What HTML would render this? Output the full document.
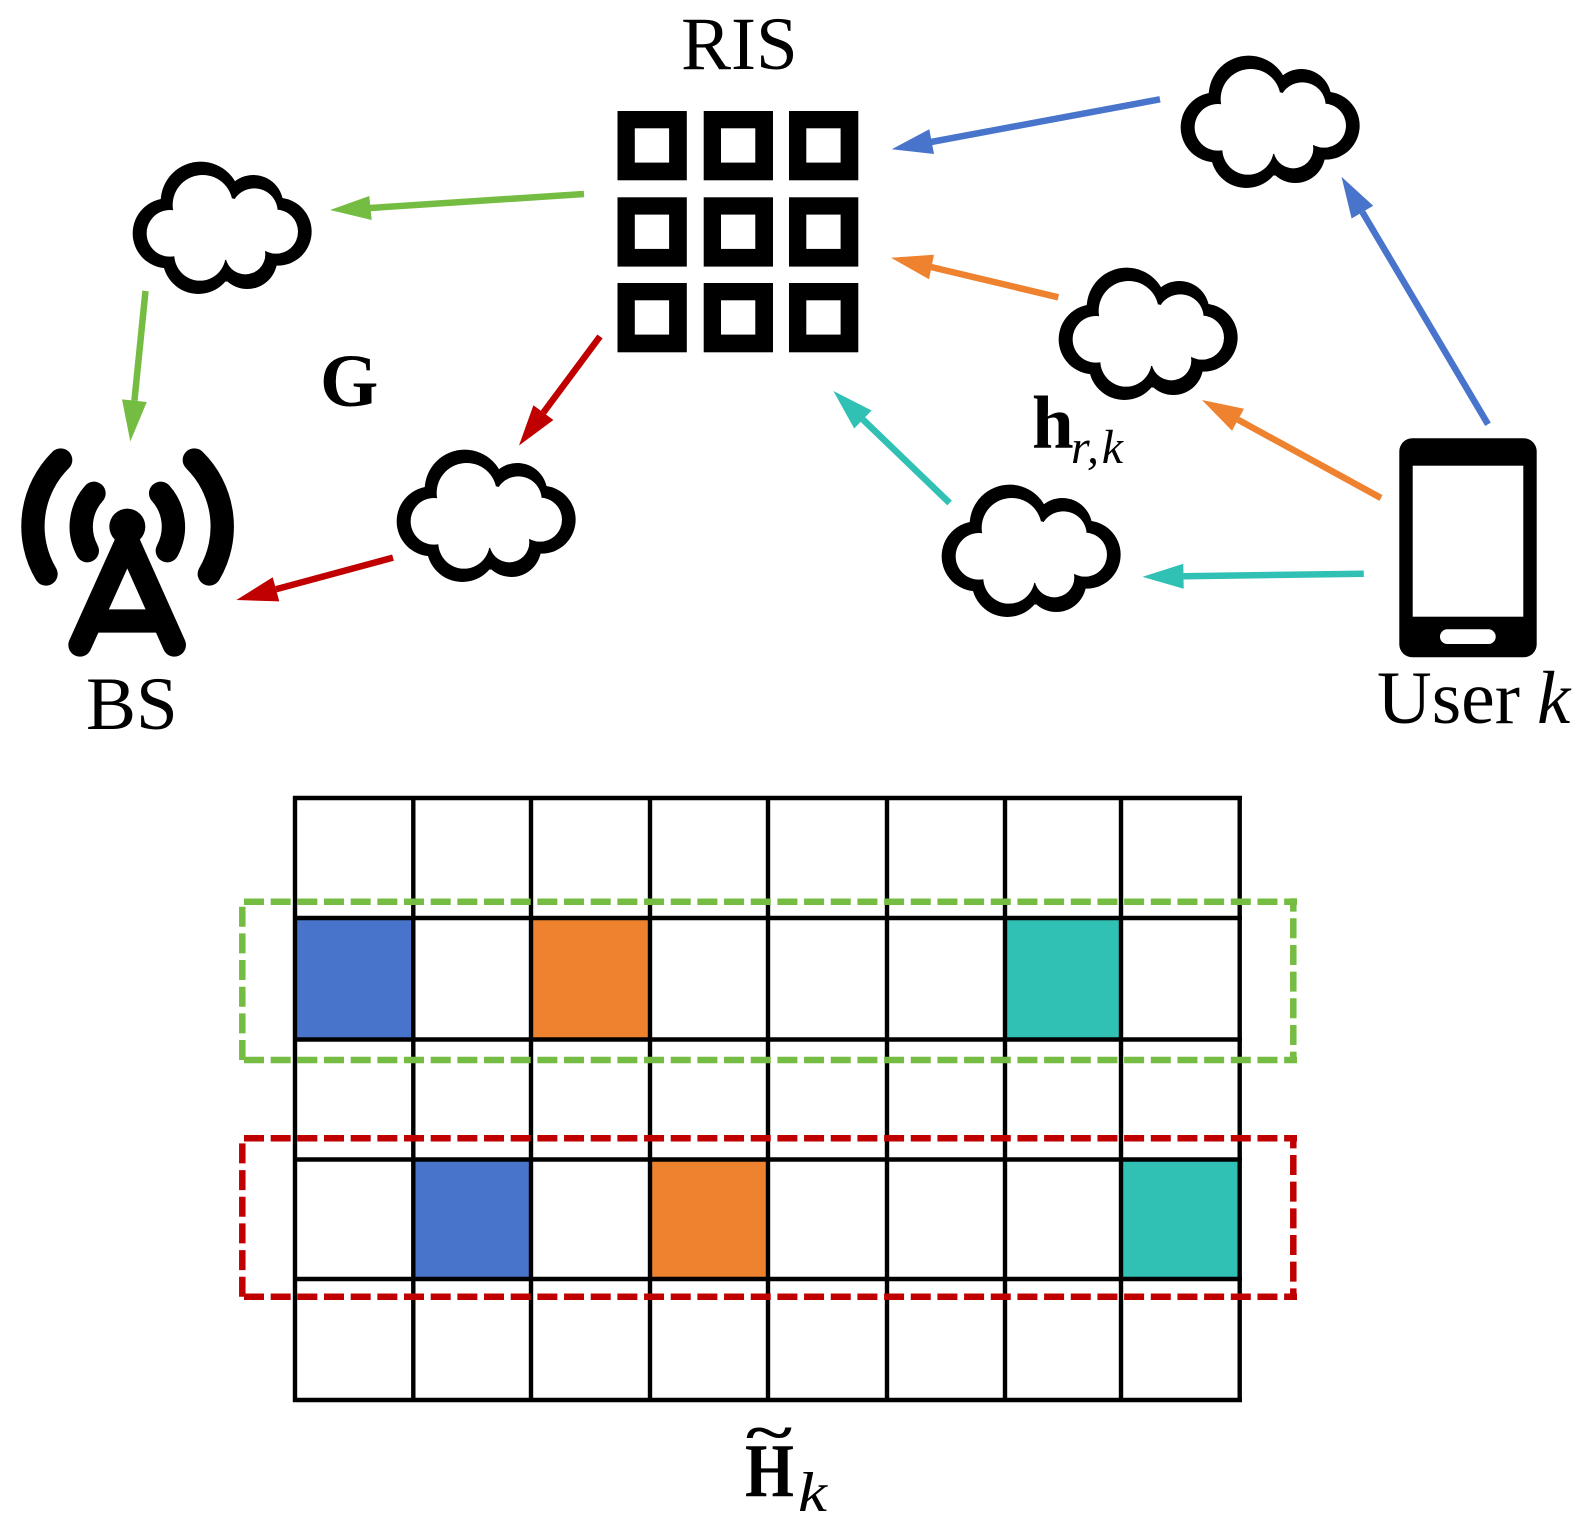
<!DOCTYPE html>
<html>
<head>
<meta charset="utf-8">
<style>
html,body{margin:0;padding:0;background:#fff;}
svg{display:block;}
text{font-family:"Liberation Serif",serif;fill:#000;}
</style>
</head>
<body>
<svg width="1584" height="1531" viewBox="0 0 1584 1531" xmlns="http://www.w3.org/2000/svg">
<defs>
<g id="cloud">
  <g transform="translate(120 150) scale(0.3333)">
    <g fill="#000">
      <circle cx="242" cy="155" r="120"/><circle cx="400" cy="165" r="90"/><circle cx="473" cy="245" r="102"/>
      <circle cx="382" cy="327" r="90"/><circle cx="235" cy="325" r="107"/><circle cx="143" cy="250" r="105"/>
      <polygon points="125,150 345,95 490,145 470,345 320,395 135,355"/>
    </g>
    <g fill="#fff">
      <circle cx="248" cy="165" r="90"/><circle cx="403" cy="185" r="70"/><circle cx="468" cy="245" r="66"/>
      <circle cx="376" cy="313" r="60"/><circle cx="240" cy="315" r="77"/><circle cx="150" cy="250" r="70"/>
      <polygon points="160,185 338,145 465,185 435,305 315,330 165,322"/>
    </g>
  </g>
</g>
<g id="cell"><rect x="0" y="0" width="69.3" height="69.3" fill="#000"/><rect x="17.3" y="17.3" width="34.3" height="34.3" fill="#fff"/></g>
</defs>

<text x="681" y="69" font-size="75">RIS</text>
<text x="86" y="729" font-size="75">BS</text>
<text x="1377" y="723" font-size="75" textLength="143" lengthAdjust="spacingAndGlyphs">User</text>
<text x="1537" y="723" font-size="75" font-style="italic">k</text>
<text x="320" y="406" font-size="75" font-weight="bold">G</text>
<text x="1032" y="448" font-size="75" font-weight="bold">h</text>
<text x="1071" y="463" font-size="48" font-style="italic" textLength="52" lengthAdjust="spacing">r,k</text>
<text x="745" y="1496" font-size="76" font-weight="bold" textLength="49" lengthAdjust="spacingAndGlyphs">H</text>
<text x="746" y="1451" font-size="56" font-weight="bold" textLength="46" lengthAdjust="spacingAndGlyphs">~</text>
<text x="798" y="1511" font-size="56" font-style="italic" textLength="29" lengthAdjust="spacingAndGlyphs">k</text>

<!-- RIS -->
<use href="#cell" x="617.5" y="111"/><use href="#cell" x="703.7" y="111"/><use href="#cell" x="789" y="111"/>
<use href="#cell" x="617.5" y="197.3"/><use href="#cell" x="703.7" y="197.3"/><use href="#cell" x="789" y="197.3"/>
<use href="#cell" x="617.5" y="283"/><use href="#cell" x="703.7" y="283"/><use href="#cell" x="789" y="283"/>

<!-- clouds -->
<use href="#cloud" x="0" y="0"/>
<use href="#cloud" x="1048" y="-106"/>
<use href="#cloud" x="926" y="106"/>
<use href="#cloud" x="264" y="288"/>
<use href="#cloud" x="809" y="323"/>

<!-- BS -->
<g transform="translate(10 430) scale(0.3333)">
  <g fill="none" stroke="#000" stroke-linecap="round" stroke-width="70">
    <path d="M152 90 A280 280 0 0 0 108 432"/>
    <path d="M553 90 A280 280 0 0 1 598 432"/>
    <path d="M252 190 A150 150 0 0 0 232 362"/>
    <path d="M452 190 A150 150 0 0 1 472 362"/>
    <path d="M352 330 L210 645"/>
    <path d="M352 330 L493 645"/>
    <path d="M240 573 L465 573" stroke-linecap="butt"/>
  </g>
  <circle cx="352" cy="290" r="54" fill="#000"/>
</g>

<!-- Phone -->
<rect x="1399.3" y="438.3" width="137.4" height="219" rx="13" fill="#000"/>
<rect x="1412.7" y="465.7" width="110.6" height="151" fill="#fff"/>
<rect x="1440" y="629.3" width="55.7" height="14.7" rx="7.3" fill="#fff"/>

<!-- Arrows -->
<g stroke-width="6.5" fill="none">
  <line x1="1160" y1="99.3" x2="931" y2="142" stroke="#4874cb"/>
  <line x1="1488" y1="424.3" x2="1362.4" y2="212.1" stroke="#4874cb"/>
  <line x1="584" y1="194" x2="370" y2="208" stroke="#75bd42"/>
  <line x1="145.5" y1="291" x2="134.4" y2="400.7" stroke="#75bd42"/>
  <line x1="600" y1="336.4" x2="543.4" y2="412.6" stroke="#c00000"/>
  <line x1="393" y1="557.6" x2="276" y2="589.3" stroke="#c00000"/>
  <line x1="1058.3" y1="297.3" x2="931" y2="267" stroke="#ee822f"/>
  <line x1="1381" y1="498" x2="1238" y2="419.7" stroke="#ee822f"/>
  <line x1="1363.8" y1="573.8" x2="1183.5" y2="576.2" stroke="#30c0b4"/>
  <line x1="949.6" y1="503" x2="862.9" y2="419.5" stroke="#30c0b4"/>
</g>
<g>
  <polygon points="891.7,149.3 929.3,129.3 934,154" fill="#4874cb"/>
  <polygon points="1341.5,176.8 1373.2,205.7 1351.6,218.5" fill="#4874cb"/>
  <polygon points="330,210 369.3,196 371.7,220" fill="#75bd42"/>
  <polygon points="130.3,441.5 146.8,402 122,399.4" fill="#75bd42"/>
  <polygon points="519,445.5 553.4,420 533.4,405.2" fill="#c00000"/>
  <polygon points="236.4,600 279.3,601.4 272.7,577.2" fill="#c00000"/>
  <polygon points="891,257.7 934,254.7 929,279.3" fill="#ee822f"/>
  <polygon points="1202,400 1244,408.7 1232,430.7" fill="#ee822f"/>
  <polygon points="1142.5,576.8 1183.7,588.7 1183.3,563.7" fill="#30c0b4"/>
  <polygon points="833.4,391 871.6,410.5 854.2,428.5" fill="#30c0b4"/>
</g>

<!-- Matrix fills -->
<rect x="295" y="918" width="118" height="121" fill="#4874cb"/>
<rect x="532" y="918" width="118" height="121" fill="#ee822f"/>
<rect x="1005" y="918" width="116" height="121" fill="#30c0b4"/>
<rect x="413" y="1159" width="118" height="120" fill="#4874cb"/>
<rect x="650" y="1159" width="118" height="120" fill="#ee822f"/>
<rect x="1121" y="1159" width="119" height="120" fill="#30c0b4"/>

<!-- Grid -->
<g stroke="#000" stroke-width="4.4" fill="none">
  <path d="M293 798H1242M293 918H1242M293 1039.5H1242M293 1159.5H1242M293 1279H1242M293 1400H1242"/>
  <path d="M295 796V1402M413.3 796V1402M531 796V1402M650 796V1402M768 796V1402M887 796V1402M1005 796V1402M1121 796V1402M1239.7 796V1402"/>
</g>

<!-- Dashed -->
<g fill="none" stroke="#75bd42" stroke-width="6.5" stroke-dasharray="20 6.67">
  <path d="M244 901.7H1297"/>
  <path d="M244 1060H1297"/>
  <path d="M242.3 906.7V1060"/>
  <path d="M1293.3 898.3V1063" stroke-dashoffset="6.67"/>
</g>
<g fill="none" stroke="#c00000" stroke-width="6.5" stroke-dasharray="20 6.67">
  <path d="M244 1138.3H1297"/>
  <path d="M244 1296.7H1297"/>
  <path d="M242.3 1143.4V1297"/>
  <path d="M1293.3 1135V1300" stroke-dashoffset="6.67"/>
</g>
</svg>
</body>
</html>
